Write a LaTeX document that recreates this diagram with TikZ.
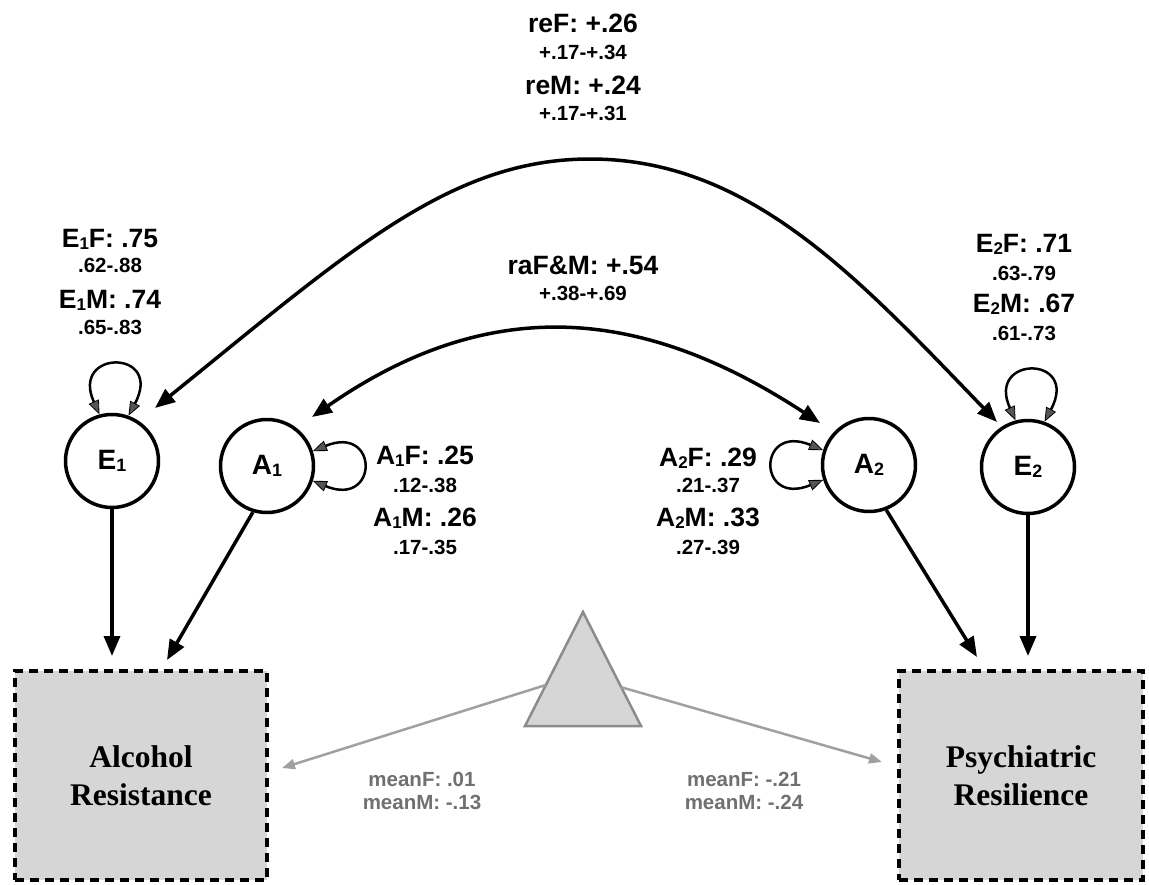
\documentclass[tikz,border=0pt]{standalone}
\usepackage{fontspec}
\usepackage{graphicx}
\setmainfont{Liberation Sans}
\newfontfamily\serifb{Liberation Serif}
\usetikzlibrary{arrows.meta,calc}
\definecolor{boxgray}{HTML}{D6D6D6}
\definecolor{trigray}{HTML}{8C8C8C}
\definecolor{arrgray}{HTML}{A0A0A0}
\definecolor{meangray}{HTML}{707070}
\definecolor{loopgray}{HTML}{555555}
\newcommand{\sbs}[1]{\raisebox{-0.08em}{\scalebox{0.64}{#1}}}
\begin{document}
\begin{tikzpicture}[x=1pt,y=-1pt,
  lat/.style={circle,draw,line width=3.5pt,minimum size=93pt,inner sep=0pt,font=\fontsize{28}{28}\selectfont\bfseries},
  obs/.style={draw,line width=4pt,dash pattern=on 9pt off 6pt,fill=boxgray,minimum height=209pt,align=center,font=\serifb\bfseries\fontsize{31.5}{38}\selectfont},
  big/.style={anchor=base,font=\fontsize{26.5}{26.5}\selectfont\bfseries},
  small/.style={anchor=base,font=\fontsize{20.5}{20.5}\selectfont\bfseries},
  meanlab/.style={anchor=base,text=meangray,font=\fontsize{20.5}{20.5}\selectfont\bfseries},
  arr/.style={line width=3.5pt,-{Triangle[length=20pt,width=16pt]}},
  dblarr/.style={line width=3.5pt,{Triangle[length=20pt,width=16pt]}-{Triangle[length=20pt,width=16pt]}},
  selfloop/.style={line width=2.5pt,{Triangle[length=14pt,width=11pt,fill=loopgray,line width=0.8pt]}-{Triangle[length=14pt,width=11pt,fill=loopgray,line width=0.8pt]}},
  grayarr/.style={draw=arrgray,line width=2.5pt,-{Triangle[length=13pt,width=10pt]}},
]
\useasboundingbox (0,0) rectangle (1149,884);

% latent variables
\node[lat] (E1) at (112,461) {E\sbs{1}};
\node[lat] (A1) at (267,466) {A\sbs{1}};
\node[lat] (A2) at (869,465) {A\sbs{2}};
\node[lat] (E2) at (1028,467) {E\sbs{2}};

% observed variables
\node[obs,minimum width=252pt] (Alc) at (141,775.5) {Alcohol\\Resistance};
\node[obs,minimum width=244pt] (Psy) at (1021,775.5) {Psychiatric\\Resilience};

% self loops
\draw[selfloop] (E1.105) .. controls ($(E1)+(-42,-112)$) and ($(E1)+(52,-112)$) .. (E1.70);
\draw[selfloop] (E2.105) .. controls ($(E2)+(-42,-112)$) and ($(E2)+(52,-112)$) .. (E2.70);
\draw[selfloop] (A1.18) .. controls ($(A1)+(112,-42)$) and ($(A1)+(112,42)$) .. (A1.-18);
\draw[selfloop] (A2.162) .. controls ($(A2)+(-112,-42)$) and ($(A2)+(-112,42)$) .. (A2.198);

% correlations
\coordinate (e1t) at ($(E1)+(43,-53)$);
\coordinate (e2t) at ($(E2)+(-31,-45)$);
\coordinate (a1t) at ($(A1)+(45,-49)$);
\coordinate (a2t) at ($(A2)+(-49,-42)$);
\draw[dblarr] (e1t) .. controls (349,251) and (450,159) .. (590,159) .. controls (750,159) and (858,278) .. (e2t);
\draw[dblarr] (a1t) .. controls (493,291) and (646,309) .. (a2t);

% paths to observed
\coordinate (alcE) at (112,656);
\coordinate (alcA) at (167,660);
\coordinate (psyA) at (977,657);
\coordinate (psyE) at (1028,656);
\draw[arr] (E1) -- (alcE);
\draw[arr] (A1.253) -- (alcA);
\draw[arr] (A2.291) -- (psyA);
\draw[arr] (E2) -- (psyE);

% mean triangle
\coordinate (tap) at (583,612);
\coordinate (tbl) at (525,726);
\coordinate (tbr) at (641,726);
\draw[draw=trigray,fill=boxgray,line width=2.5pt,line join=miter] (tap) -- (tbl) -- (tbr) -- cycle;
\coordinate (mL) at (282,768);
\coordinate (mR) at (882,762);
\draw[grayarr] ($(tap)!0.64!(tbl)$) -- (mL);
\draw[grayarr] ($(tap)!0.66!(tbr)$) -- (mR);

% labels
\node[big] (reF) at (583,32.5) {reF: +.26};
\node[small] (reFci) at (583,59.3) {+.17-+.34};
\node[big] (reM) at (583,94.5) {reM: +.24};
\node[small] (reMci) at (583,120.3) {+.17-+.31};
\node[big] (ra) at (583,274.5) {raF\&M: +.54};
\node[small] (raci) at (583,300.3) {+.38-+.69};

\node[big] (e1f) at (110,247.5) {E\sbs{1}F: .75};
\node[small] (e1fci) at (110,272.3) {.62-.88};
\node[big] (e1m) at (110,308.5) {E\sbs{1}M: .74};
\node[small] (e1mci) at (110,334.3) {.65-.83};

\node[big] (e2f) at (1024,252.5) {E\sbs{2}F: .71};
\node[small] (e2fci) at (1024,280.3) {.63-.79};
\node[big] (e2m) at (1024,312.5) {E\sbs{2}M: .67};
\node[small] (e2mci) at (1024,340.3) {.61-.73};

\node[big] (a1f) at (425,464.5) {A\sbs{1}F: .25};
\node[small] (a1fci) at (425,492.3) {.12-.38};
\node[big] (a1m) at (425,526.5) {A\sbs{1}M: .26};
\node[small] (a1mci) at (425,554.3) {.17-.35};

\node[big] (a2f) at (708,466.5) {A\sbs{2}F: .29};
\node[small] (a2fci) at (708,492.3) {.21-.37};
\node[big] (a2m) at (708,526.5) {A\sbs{2}M: .33};
\node[small] (a2mci) at (708,554.3) {.27-.39};

\node[meanlab] (mlf) at (422,786) {meanF: .01};
\node[meanlab] (mlm) at (422,809) {meanM: -.13};
\node[meanlab] (mrf) at (744,786) {meanF: -.21};
\node[meanlab] (mrm) at (744,809) {meanM: -.24};
\end{tikzpicture}
\end{document}
